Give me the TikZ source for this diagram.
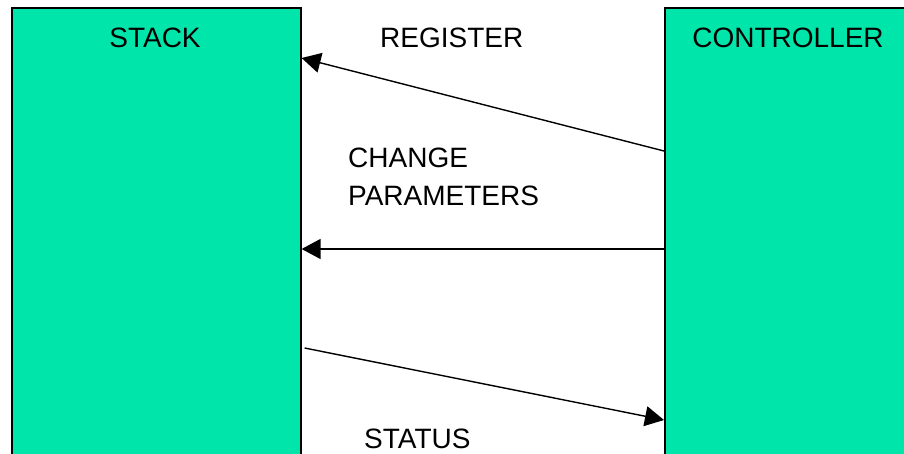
\documentclass[tikz,border=0pt]{standalone}
\usepackage{fontspec}
\setmainfont{Liberation Sans}
\usetikzlibrary{arrows.meta,calc}
\definecolor{boxgreen}{RGB}{0,229,169}
\tikzset{
  block/.style={draw=black, line width=1.6pt, fill=boxgreen, inner sep=0pt},
  lbl/.style={font=\fontsize{28}{34}\selectfont, inner sep=0pt, text=black},
  msg/.style={line width=1.4pt, -{Triangle[length=19pt,width=20pt]}},
}
\begin{document}
\begin{tikzpicture}[x=1pt,y=-1pt]
  \useasboundingbox (0,0) rectangle (904,454);
  \clip (0,0) rectangle (904,454);
  % the two blocks, running past the lower edge
  \node[block, minimum width=289pt, minimum height=470pt, anchor=north west] (stack) at (11,7) {};
  \node[block, minimum width=260pt, minimum height=470pt, anchor=north west] (ctrl) at (664,7) {};
  % block titles
  \node[lbl, anchor=base] (stacklbl) at (155,48) {STACK};
  \node[lbl, anchor=base] (ctrllbl) at (788,48) {CONTROLLER};
  % message labels
  \node[lbl, anchor=base west] (reglbl) at (380,48) {REGISTER};
  \node[lbl, anchor=base west] (chglbl) at (348,168) {CHANGE};
  \node[lbl, anchor=base west] (parlbl) at (348,206) {PARAMETERS};
  \node[lbl, anchor=base west] (statlbl) at (364,448) {STATUS};
  % end points of the messages on the block edges
  \coordinate (regfrom) at ($(ctrl.north west)+(0,144)$);
  \coordinate (regto)   at ($(stack.north east)+(0,51)$);
  \coordinate (chgfrom) at ($(ctrl.north west)+(0,242)$);
  \coordinate (chgto)   at ($(stack.north east)+(0,242)$);
  \coordinate (statfrom) at ($(stack.north east)+(3,341)$);
  \coordinate (statto)   at ($(ctrl.north west)+(0,413)$);
  % messages
  \draw[msg] (regfrom) -- (regto);
  \draw[msg] (chgfrom) -- (chgto);
  \draw[msg] (statfrom) -- (statto);
\end{tikzpicture}
\end{document}
